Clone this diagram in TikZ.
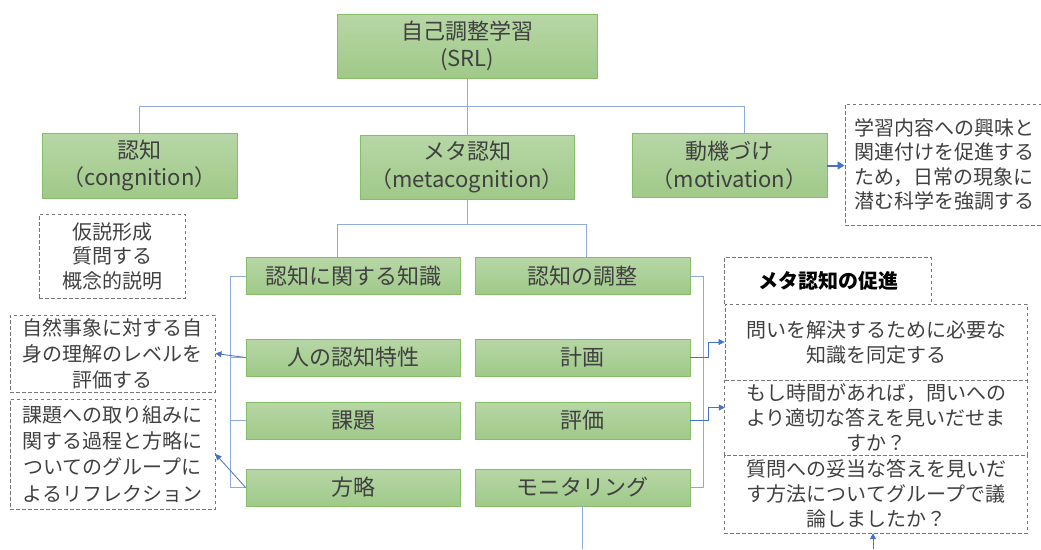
\documentclass[tikz,border=0pt]{standalone}
\usepackage{fontspec}
\setmainfont{Noto Sans CJK JP}
\usetikzlibrary{arrows.meta}
\definecolor{gtop}{RGB}{183,215,166}
\definecolor{gbot}{RGB}{160,201,137}
\definecolor{gline}{RGB}{134,190,104}
\definecolor{connc}{RGB}{143,170,220}
\definecolor{arrc}{RGB}{68,114,196}
\definecolor{txt}{RGB}{64,64,64}
\definecolor{dashc}{RGB}{118,118,118}
\begin{document}
\begin{tikzpicture}[x=1pt,y=-1pt,
 gbox/.style={draw=gline, line width=0.8pt, top color=gtop, bottom color=gbot, text=txt, align=center, inner sep=0pt, font=\fontsize{22}{27.5}\selectfont},
 dline/.style={draw=dashc, dash pattern=on 3.5pt off 2.5pt, line width=0.9pt},
 dbox/.style={dline, text=txt, align=center, inner sep=0pt, font=\fontsize{20}{25.5}\selectfont},
 dtext/.style={text=txt, align=center, inner sep=0pt, font=\fontsize{20}{25.5}\selectfont},
 connl/.style={draw=connc, line width=0.8pt},
 arl/.style={draw=arrc, line width=0.8pt, -{Triangle[length=6pt,width=6pt]}}
]
\useasboundingbox (0,0) rectangle (1041,549);

% green boxes
\node[gbox, minimum width=260pt, minimum height=64pt] (srl) at (467,46) {自己調整学習\\(SRL)};
\node[gbox, minimum width=195pt, minimum height=65pt] (cog) at (139.5,165.5) {認知\\（congnition）};
\node[gbox, minimum width=214pt, minimum height=64pt] (meta) at (467,167) {メタ認知\\（metacognition）};
\node[gbox, minimum width=195pt, minimum height=64pt] (mot) at (729.5,165.5) {動機づけ\\（motivation）};

\node[gbox, minimum width=214pt, minimum height=37pt] (know) at (353,276) {認知に関する知識};
\node[gbox, minimum width=214pt, minimum height=37pt] (pers) at (353,357.5) {人の認知特性};
\node[gbox, minimum width=214pt, minimum height=37pt] (task) at (353,420.5) {課題};
\node[gbox, minimum width=214pt, minimum height=37pt] (strat) at (353,487.5) {方略};

\node[gbox, minimum width=215pt, minimum height=37pt] (reg) at (582.5,276) {認知の調整};
\node[gbox, minimum width=215pt, minimum height=37pt] (plan) at (582.5,357.5) {計画};
\node[gbox, minimum width=215pt, minimum height=37pt] (eval) at (582.5,420.5) {評価};
\node[gbox, minimum width=215pt, minimum height=37pt] (mon) at (582.5,487.5) {モニタリング};

% dashed boxes
\node[dbox, minimum width=203pt, minimum height=121pt, align=left, text width=185pt, font=\fontsize{20}{24.4}\selectfont] (motnote) at (946.5,164.5) {学習内容への興味と\\関連付けを促進する\\ため，日常の現象に\\潜む科学を強調する};
\node[dbox, minimum width=146pt, minimum height=84pt, font=\fontsize{20}{24.5}\selectfont] (cognote) at (112,256) {仮説形成\\質問する\\概念的説明};
\node[dbox, minimum width=205pt, minimum height=77pt, font=\fontsize{20}{26}\selectfont] (n1) at (112.5,353.5) {自然事象に対する自\\身の理解のレベルを\\評価する};
\node[dbox, minimum width=205pt, minimum height=110pt, font=\fontsize{20}{26.3}\selectfont] (n2) at (112.5,454) {課題への取り組みに\\関する過程と方略に\\ついてのグループに\\よるリフレクション};

% metacognition promotion stack (shared edges drawn once)
\node[dtext, minimum width=206pt, minimum height=46pt, font=\fontsize{20}{25}\selectfont\bfseries, text=black] (head) at (828,280.5) {メタ認知の促進};
\node[dbox, minimum width=302pt, minimum height=76pt, font=\fontsize{20}{25}\selectfont] (b1) at (876,342) {問いを解決するために必要な\\知識を同定する};
\node[dtext, minimum width=302pt, minimum height=75pt, font=\fontsize{20}{24.8}\selectfont] (b2) at (876,417.5) {もし時間があれば，問いへの\\より適切な答えを見いだせま\\すか？};
\node[dtext, minimum width=302pt, minimum height=78pt, font=\fontsize{20}{24.8}\selectfont] (b3) at (876,494) {質問への妥当な答えを見いだ\\す方法についてグループで議\\論しましたか？};
\draw[dline] (head.south west) -- (head.north west) -- (head.north east) -- (head.south east);
\draw[dline] (b2.north west) -- (b2.south west) -- (b2.south east) -- (b2.north east);
\draw[dline] (b3.north west) -- (b3.south west) -- (b3.south east) -- (b3.north east);

% tree connectors
\draw[connl] (srl.south) -- ++(0,28) coordinate (hb);
\draw[connl] (cog.north) |- (hb) -| ([xshift=14.5pt]mot.north);
\draw[connl] (hb) -- (meta.north);
\draw[connl] (meta.south) -- ++(0,25) coordinate (mb);
\draw[connl] ([xshift=-16pt]know.north) |- (mb) -| ([xshift=3.5pt]reg.north);

\draw[connl] (know.west) -- ++(-15,0) coordinate (lk);
\draw[connl] (lk) |- (pers.west);
\draw[connl] (lk) |- (task.west);
\draw[connl] (lk) |- (strat.west);

\draw[connl] (reg.east) -- ++(13,0) coordinate (rk);
\draw[connl] (rk) |- (plan.east);
\draw[connl] (rk) |- (eval.east);
\draw[connl] (rk) |- (mon.east);

% arrows
\draw[arl, line width=2pt, -{Triangle[length=7pt,width=8pt]}] (mot.east) -- (mot.east -| motnote.west);
\draw[arl] (pers.west) -- (n1.east);
\draw[arl] (strat.west) -- (n2.east);
\draw[arl] (plan.east) -- ++(18,0) |- (b1.west);
\draw[arl] (eval.east) -- ++(18,0) |- ([yshift=10pt]b2.west);

% cut-off connectors at the bottom
\coordinate (bot1) at (582.5,549);
\coordinate (bot2) at (873,549);
\draw[connl] (mon.south) -- (bot1);
\draw[arl] (bot2) -- (bot2 |- b3.south);
\end{tikzpicture}
\end{document}
